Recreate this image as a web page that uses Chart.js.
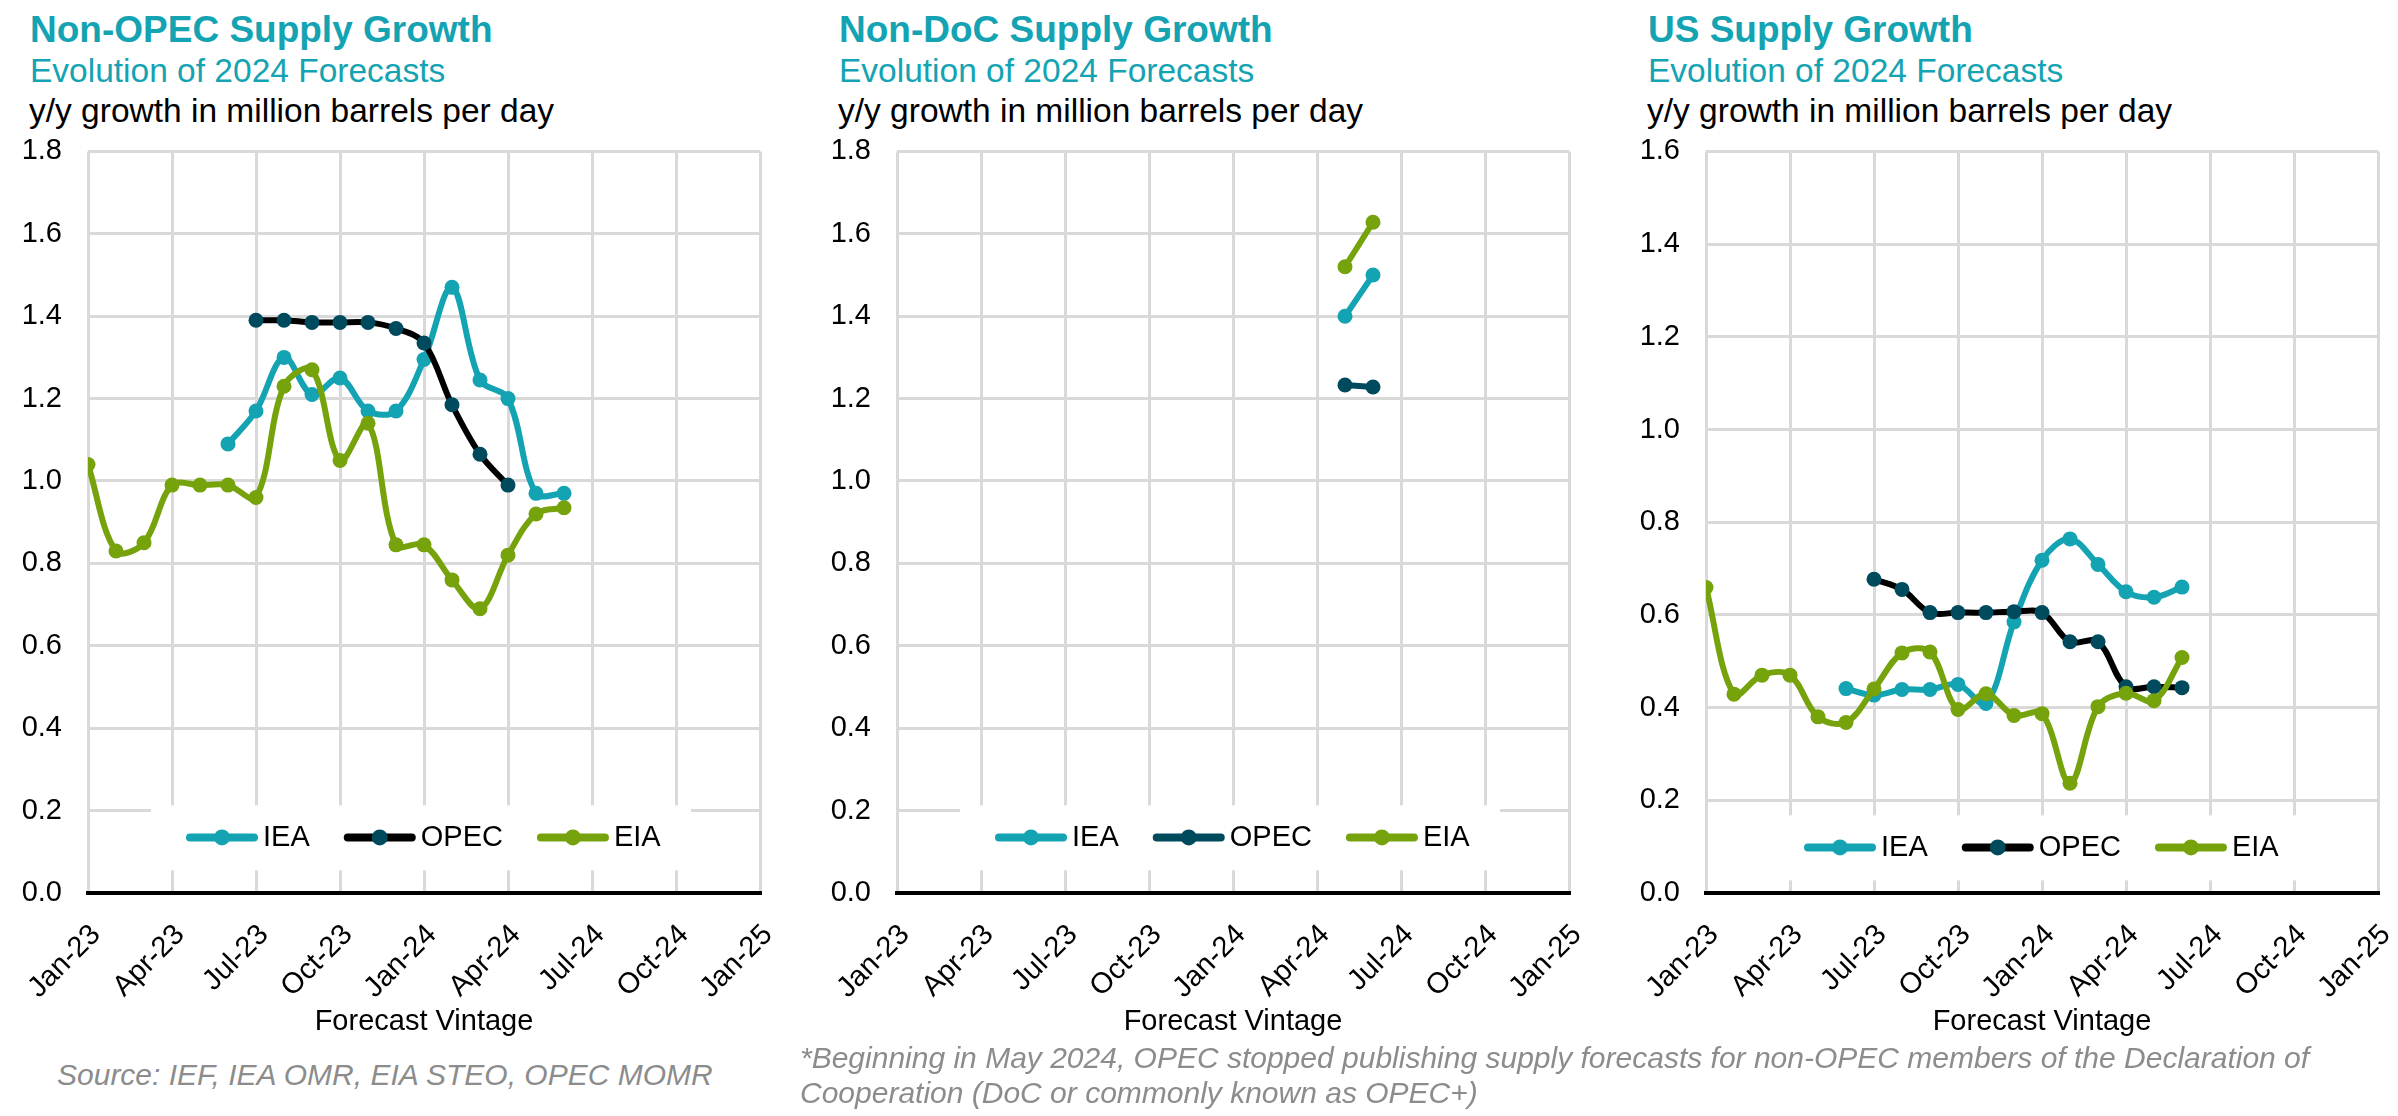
<!DOCTYPE html>
<html>
<head>
<meta charset="utf-8">
<script src="https://cdn.jsdelivr.net/npm/chart.js@4.4.1/dist/chart.umd.min.js"></script>
<style>
  body { margin: 0; background: #fff; width: 2398px; height: 1116px; overflow: hidden; position: relative; font-family: "Liberation Sans", Arial, sans-serif; }
  .panel { position: absolute; top: 0; width: 809px; height: 1116px; }
  .panel canvas { position: absolute; left: 0; top: 108px; }
  .title { position: absolute; left: 30px; top: 11px; font-size: 37px; font-weight: bold; color: #14A3B2; line-height: 37px; white-space: nowrap; }
  .sub { position: absolute; left: 30px; top: 54px; font-size: 33.5px; color: #14A3B2; line-height: 34px; white-space: nowrap; }
  .unit { position: absolute; left: 29px; top: 94px; font-size: 33.5px; color: #000; line-height: 34px; white-space: nowrap; }
  .note { position: absolute; font-size: 30px; font-style: italic; color: #8C8C8C; white-space: nowrap; }
</style>
</head>
<body>

<div class="panel" style="left:0px">
  <div class="title">Non-OPEC Supply Growth</div>
  <div class="sub">Evolution of 2024 Forecasts</div>
  <div class="unit">y/y growth in million barrels per day</div>
  <canvas id="c1" width="780" height="935"></canvas>
</div>
<div class="panel" style="left:809px">
  <div class="title">Non-DoC Supply Growth</div>
  <div class="sub">Evolution of 2024 Forecasts</div>
  <div class="unit">y/y growth in million barrels per day</div>
  <canvas id="c2" width="780" height="935"></canvas>
</div>
<div class="panel" style="left:1618px">
  <div class="title">US Supply Growth</div>
  <div class="sub">Evolution of 2024 Forecasts</div>
  <div class="unit">y/y growth in million barrels per day</div>
  <canvas id="c3" width="780" height="935"></canvas>
</div>

<div class="note" style="left:57px; top:1058px; line-height:34px">Source: IEF, IEA OMR, EIA STEO, OPEC MOMR</div>
<div class="note" style="left:800px; top:1040px; line-height:35px">*Beginning in May 2024, OPEC stopped publishing supply forecasts for non-OPEC members of the Declaration of<br>Cooperation (DoC or commonly known as OPEC+)</div>

<script>
// forecast vintages, one per month
const months = ['Jan-23','Feb-23','Mar-23','Apr-23','May-23','Jun-23','Jul-23','Aug-23','Sep-23',
  'Oct-23','Nov-23','Dec-23','Jan-24','Feb-24','Mar-24','Apr-24','May-24','Jun-24'];
const tickLabels = ['Jan-23','Apr-23','Jul-23','Oct-23','Jan-24','Apr-24','Jul-24','Oct-24','Jan-25'];
const seriesNames = ['IEA', 'OPEC', 'EIA'];

// Non-OPEC
const ieaNonOpec  = [null,null,null,null,null,1.09,1.17,1.30,1.21,1.25,1.17,1.17,1.295,1.47,1.245,1.20,0.97,0.97];
const opecNonOpec = [null,null,null,null,null,null,1.39,1.39,1.385,1.385,1.385,1.37,1.335,1.185,1.065,0.99,null,null];
const eiaNonOpec  = [1.04,0.83,0.85,0.99,0.99,0.99,0.96,1.23,1.27,1.05,1.14,0.845,0.845,0.76,0.69,0.82,0.92,0.935];

// Non-DoC (only from May 2024)
const ieaNonDoc  = [null,null,null,null,null,null,null,null,null,null,null,null,null,null,null,null,1.40,1.50];
const opecNonDoc = [null,null,null,null,null,null,null,null,null,null,null,null,null,null,null,null,1.233,1.228];
const eiaNonDoc  = [null,null,null,null,null,null,null,null,null,null,null,null,null,null,null,null,1.52,1.628];

// US
const ieaUS  = [null,null,null,null,null,0.441,0.427,0.439,0.439,0.45,0.409,0.585,0.718,0.764,0.709,0.65,0.638,0.66];
const opecUS = [null,null,null,null,null,null,0.677,0.655,0.605,0.605,0.605,0.607,0.605,0.542,0.542,0.445,0.445,0.443];
const eiaUS  = [0.659,0.429,0.47,0.47,0.38,0.368,0.44,0.518,0.52,0.396,0.43,0.383,0.387,0.237,0.402,0.431,0.415,0.508];

const TEAL = '#14A3B2';
const DARK = '#004A5E';
const GREEN = '#76A20C';
const GRID = '#D9D9D9';
const FONT = '"Liberation Sans", Arial, sans-serif';

// legend drawn inside the plot on a white box, like the original
const boxLegend = {
  id: 'boxLegend',
  beforeDatasetsDraw(chart, args, opts) {
    const { ctx, chartArea } = chart;
    const top = chartArea.top + opts.top;
    ctx.save();
    ctx.fillStyle = '#fff';
    ctx.fillRect(chartArea.left + 63, top, 540, 65);
    const cy = top + 32;
    let x = chartArea.left + 98;
    ctx.font = '29px ' + FONT;
    ctx.textBaseline = 'middle';
    ctx.textAlign = 'left';
    chart.data.datasets.forEach(ds => {
      ctx.strokeStyle = ds.borderColor;
      ctx.lineWidth = 8;
      ctx.lineCap = 'round';
      ctx.beginPath();
      ctx.moveTo(x + 4, cy);
      ctx.lineTo(x + 68, cy);
      ctx.stroke();
      ctx.fillStyle = ds.pointBackgroundColor;
      ctx.beginPath();
      ctx.arc(x + 36, cy, 8, 0, Math.PI * 2);
      ctx.fill();
      ctx.fillStyle = '#000';
      ctx.fillText(ds.label, x + 77, cy + 1);
      x += 77 + ctx.measureText(ds.label).width + 34;
    });
    ctx.restore();
  }
};

function toPoints(vals) {
  return vals.map((v, i) => ({ x: i, y: v }));
}

function makeChart(id, iea, opec, eia, yMax, opecLine, legendTop) {
  const line = (label, vals, lineColor, pointColor, order) => ({
    label: label,
    data: toPoints(vals),
    borderColor: lineColor,
    backgroundColor: pointColor,
    pointBackgroundColor: pointColor,
    pointBorderColor: pointColor,
    pointRadius: 7.5,
    pointBorderWidth: 0,
    borderWidth: 6,
    tension: 0.35,
    spanGaps: false,
    order: order
  });

  return new Chart(document.getElementById(id), {
    type: 'line',
    data: {
      datasets: [
        line(seriesNames[0], iea, TEAL, TEAL, 2),
        line(seriesNames[1], opec, opecLine, DARK, 1),
        line(seriesNames[2], eia, GREEN, GREEN, 0)
      ]
    },
    options: {
      responsive: false,
      animation: false,
      layout: { padding: { top: 26, right: 20, left: 0, bottom: 0 } },
      plugins: {
        legend: { display: false },
        tooltip: { enabled: false },
        boxLegend: { top: legendTop }
      },
      scales: {
        x: {
          type: 'linear',
          min: 0,
          max: 24,
          afterFit: s => { s.height = 150; s.paddingRight = 0; },
          grid: { color: GRID, lineWidth: 3, drawTicks: false },
          border: { display: true, color: '#000', width: 4 },
          ticks: {
            stepSize: 3,
            autoSkip: false,
            maxRotation: 45,
            minRotation: 45,
            padding: 25,
            labelOffset: 8,
            color: '#000',
            font: { family: FONT, size: 29 },
            callback: v => tickLabels[Math.round(v / 3)]
          },
          title: {
            display: true,
            text: 'Forecast Vintage',
            color: '#000',
            font: { family: FONT, size: 29 },
            padding: { top: 0, bottom: 4 }
          }
        },
        y: {
          min: 0,
          max: yMax,
          afterFit: s => { s.width = 88; },
          grid: {
            color: c => (c.tick && c.tick.value === 0) ? '#000' : GRID,
            lineWidth: c => (c.tick && c.tick.value === 0) ? 4 : 3,
            drawTicks: false
          },
          border: { display: false },
          ticks: {
            stepSize: 0.2,
            padding: 26,
            color: '#000',
            font: { family: FONT, size: 29 },
            callback: v => Number(v).toFixed(1)
          }
        }
      }
    },
    plugins: [boxLegend]
  });
}

makeChart('c1', ieaNonOpec, opecNonOpec, eiaNonOpec, 1.8, '#000', 654);
makeChart('c2', ieaNonDoc, opecNonDoc, eiaNonDoc, 1.8, DARK, 654);
makeChart('c3', ieaUS, opecUS, eiaUS, 1.6, '#000', 664);
</script>
</body>
</html>
